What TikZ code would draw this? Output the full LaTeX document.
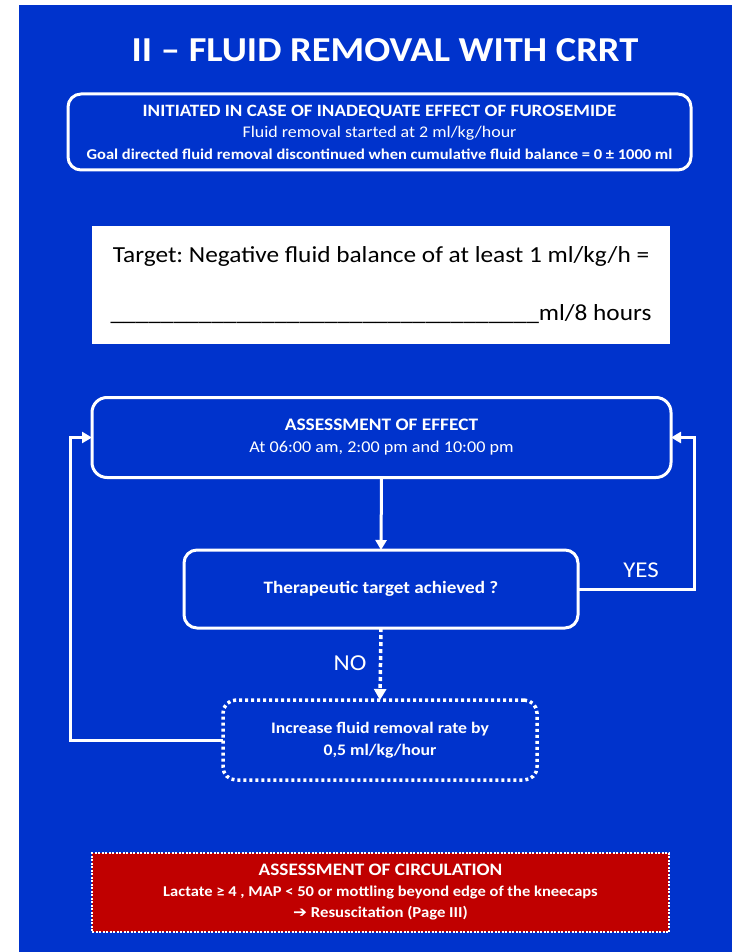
\documentclass[tikz,border=0pt]{standalone}
\usepackage{fontspec}
\setmainfont{Carlito}[FakeStretch=1.1]
\newfontfamily\symfont{DejaVu Sans}[FakeStretch=1.1]
\usetikzlibrary{arrows.meta}
\definecolor{bgblue}{RGB}{0,51,204}
\definecolor{alertred}{RGB}{192,0,0}
\frenchspacing
\begin{document}
\begin{tikzpicture}[x=1pt,y=-1pt,
  box/.style={draw=white, line width=3pt, rounded corners=13pt, text=white, align=center, inner sep=0pt, outer sep=0pt},
  dotbox/.style={draw=white, line width=3.5pt, dash pattern=on 3pt off 3pt, rounded corners=13pt, text=white, align=center, inner sep=0pt, outer sep=0pt},
  flow/.style={draw=white, line width=3pt, -{Triangle[length=10pt,width=11pt]}},
  dotflow/.style={draw=white, line width=3.5pt, dash pattern=on 4pt off 3pt, -{Triangle[length=11pt,width=12pt]}},
  lbl/.style={text=white, inner sep=0pt}
]
\useasboundingbox (0,0) rectangle (732,952);
\fill[white] (0,0) rectangle (732,952);
\fill[bgblue] (19,5) rectangle (732,952);

\node[lbl, font=\fontsize{35}{40}\selectfont\bfseries] (title) at (385,50) {II -- FLUID REMOVAL WITH CRRT};

\node[box, minimum width=623pt, minimum height=76pt, font=\fontsize{16.3}{21.5}\selectfont] (init) at (379.5,132)
 {{\fontsize{17.3}{21.5}\selectfont\bfseries INITIATED IN CASE OF INADEQUATE EFFECT OF FUROSEMIDE}\\
  Fluid removal started at 2 ml/kg/hour\\
  {\fontsize{15}{21.5}\selectfont\bfseries Goal directed fluid removal discontinued when cumulative fluid balance = 0 ± 1000 ml}};

\node[fill=white, minimum width=578pt, minimum height=118pt, inner sep=0pt, align=center, text=black, font=\fontsize{23}{58}\selectfont] (target) at (381,285)
 {Target: Negative fluid balance of at least 1 ml/kg/h =\\
  \_\_\_\_\_\_\_\_\_\_\_\_\_\_\_\_\_\_\_\_\_\_\_\_\_\_\_\_\_\_\_\_\_\_ml/8 hours};

\node[box, rounded corners=15pt, minimum width=579pt, minimum height=80pt, font=\fontsize{16.5}{22}\selectfont] (assess) at (381.5,437.5)
 {{\fontsize{17.6}{22}\selectfont\bfseries ASSESSMENT OF EFFECT}\\ At 06:00 am, 2:00 pm and 10:00 pm};

\node[box, minimum width=394pt, minimum height=78pt, font=\fontsize{17.4}{22}\selectfont\bfseries] (ther) at (381,589)
 {Therapeutic target achieved ?};

\node[dotbox, minimum width=314pt, minimum height=80pt, font=\fontsize{16.1}{21.5}\selectfont\bfseries] (inc) at (380,740)
 {Increase fluid removal rate by\\ 0,5 ml/kg/hour};

\node[fill=alertred, draw=white, line width=2.5pt, dash pattern=on 2pt off 1.5pt, minimum width=577pt, minimum height=79pt, inner sep=0pt, align=center, text=white, font=\fontsize{15}{21}\selectfont\bfseries] (circ) at (380.5,892.5)
 {{\fontsize{17.5}{21}\selectfont ASSESSMENT OF CIRCULATION}\\
  Lactate ≥ 4 , MAP < 50 or mottling beyond edge of the kneecaps\\
  {\fontsize{15.2}{21}\selectfont{\symfont\bfseries ➔} Resuscitation (Page III)}};

\draw[flow] (assess.south) -- (ther.north);
\draw[flow] (ther.east) -- ++(116,0) |- (assess.east);
\draw[dotflow] (ther.south) -- (inc.north);
\draw[flow] (inc.west) -- ++(-153,0) |- (assess.west);

\node[lbl, font=\fontsize{22.6}{26}\selectfont] (yes) at (641,570) {YES};
\node[lbl, font=\fontsize{22.8}{26}\selectfont] (no) at (350,663) {NO};
\end{tikzpicture}
\end{document}
